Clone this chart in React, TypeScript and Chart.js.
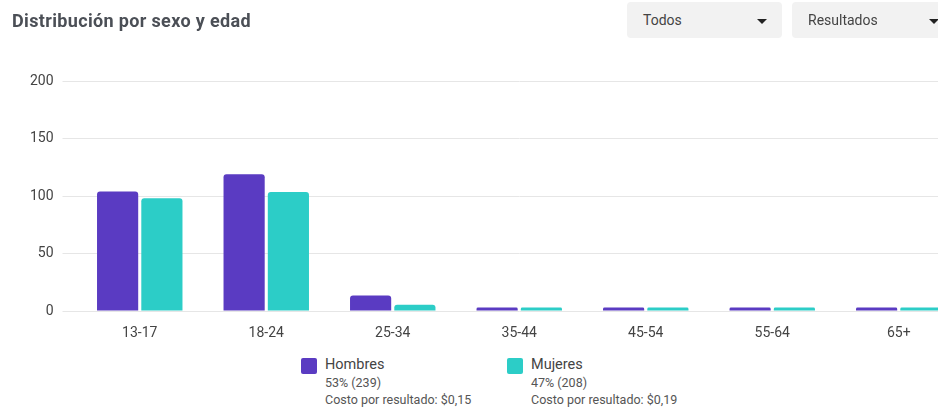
import React, { useEffect, useRef } from "react";
import { Chart, registerables } from "chart.js";

Chart.register(...registerables);

const categories = ["13-17", "18-24", "25-34", "35-44", "45-54", "55-64", "65+"];
const hombres = [104, 119, 13.5, 3, 3, 3, 3];
const mujeres = [98, 103.5, 5.5, 3, 3, 3, 3];
const yTicks = [0, 50, 100, 150, 200];

const PURPLE = "#5a3bc2";
const TEAL = "#2ccdc7";
const FONT = "Roboto, 'Noto Sans', sans-serif";

function Dropdown({ label, left, width }: { label: string; left: number; width: number }) {
  return (
    <div
      style={{
        position: "absolute",
        left,
        top: 2,
        width,
        height: 36,
        background: "#f2f2f2",
        borderRadius: 4,
        fontSize: 14,
        color: "#444",
      }}
    >
      <span style={{ position: "absolute", left: 16, top: 9, lineHeight: "18px" }}>{label}</span>
      <span
        style={{
          position: "absolute",
          right: 15,
          top: 17,
          width: 0,
          height: 0,
          borderLeft: "5px solid transparent",
          borderRight: "5px solid transparent",
          borderTop: "5px solid #222",
        }}
      />
    </div>
  );
}

function LegendItem({ color, left, name, pct, cost }: { color: string; left: number; name: string; pct: string; cost: string }) {
  return (
    <div style={{ position: "absolute", left, top: 356 }}>
      <div style={{ position: "absolute", left: 0, top: 2, width: 16, height: 16, background: color, borderRadius: 2 }} />
      <div style={{ position: "absolute", left: 24, top: 0, whiteSpace: "nowrap", color: "#444" }}>
        <div style={{ fontSize: 14.5, lineHeight: "18px" }}>{name}</div>
        <div style={{ fontSize: 12.5, lineHeight: "17px", color: "#555" }}>{pct}</div>
        <div style={{ fontSize: 12.5, lineHeight: "17px", color: "#555" }}>{cost}</div>
      </div>
    </div>
  );
}

export default function App() {
  const ref = useRef<HTMLCanvasElement | null>(null);

  useEffect(() => {
    if (!ref.current) return;
    const chart = new Chart(ref.current, {
      type: "bar",
      data: {
        labels: categories,
        datasets: [
          {
            label: "Hombres",
            data: hombres,
            backgroundColor: PURPLE,
            barPercentage: 0.93,
            categoryPercentage: 0.7,
            borderRadius: 3,
            borderSkipped: "bottom",
          },
          {
            label: "Mujeres",
            data: mujeres,
            backgroundColor: TEAL,
            barPercentage: 0.93,
            categoryPercentage: 0.7,
            borderRadius: 3,
            borderSkipped: "bottom",
          },
        ],
      },
      options: {
        responsive: false,
        animation: false,
        devicePixelRatio: 1,
        layout: { padding: { top: 81, left: 0, right: 0, bottom: 0 } },
        plugins: { legend: { display: false }, tooltip: { enabled: false } },
        scales: {
          x: {
            grid: { display: false },
            border: { display: false },
            ticks: { color: "#444", font: { family: FONT, size: 14 }, padding: 6 },
            afterFit: (s: any) => {
              s.height = 34;
            },
          },
          y: {
            min: 0,
            max: 200,
            afterBuildTicks: (s: any) => {
              s.ticks = yTicks.map((v) => ({ value: v }));
            },
            grid: { color: "#e6e6e6", drawTicks: true, tickLength: 14 },
            border: { display: false },
            ticks: { color: "#444", font: { family: FONT, size: 14 }, padding: 9 },
            afterFit: (s: any) => {
              s.width = 76.5;
            },
          },
        },
      },
    });
    return () => chart.destroy();
  }, []);

  return (
    <div
      style={{
        position: "absolute",
        left: 0,
        top: 0,
        width: 938,
        height: 410,
        overflow: "hidden",
        background: "#fff",
        fontFamily: FONT,
      }}
    >
      <canvas ref={ref} width={962} height={345} style={{ position: "absolute", left: 0, top: 0, display: "block" }} />
      <div
        style={{
          position: "absolute",
          left: 12,
          top: 9,
          fontSize: 18,
          fontWeight: 700,
          letterSpacing: "0.35px",
          color: "#4b4f56",
          whiteSpace: "nowrap",
          lineHeight: "24px",
        }}
      >
        Distribución por sexo y edad
      </div>
      <Dropdown label="Todos" left={627} width={155} />
      <Dropdown label="Resultados" left={792} width={162} />
      <LegendItem color={PURPLE} left={301} name="Hombres" pct="53% (239)" cost="Costo por resultado: $0,15" />
      <LegendItem color={TEAL} left={507} name="Mujeres" pct="47% (208)" cost="Costo por resultado: $0,19" />
    </div>
  );
}
